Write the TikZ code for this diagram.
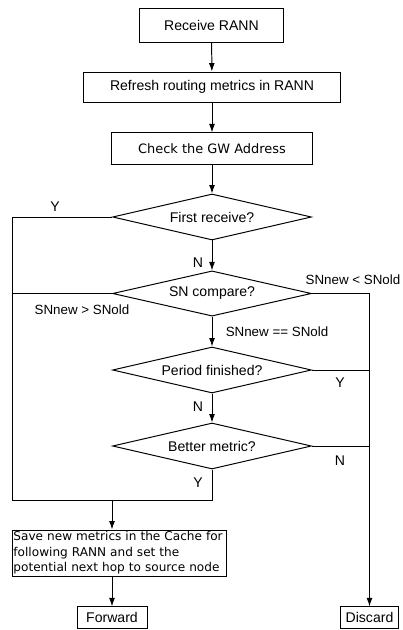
\documentclass[tikz,border=0pt]{standalone}
\usepackage{fontspec}
\setmainfont{Liberation Sans}
\newfontfamily\verd{DejaVu Sans}
\usetikzlibrary{shapes.geometric,arrows.meta,positioning}

\begin{document}
\begin{tikzpicture}[x=0.025cm,y=-0.025cm,
	every node/.style={font=\fontsize{10}{12}\selectfont},
	process/.style={draw,rectangle,line width=0.7pt,inner sep=1pt},
	decision/.style={draw,diamond,aspect=4.33,line width=0.7pt,inner sep=0pt,minimum width=4.97cm,minimum height=1.15cm},
	flow/.style={line width=0.7pt,-{Latex[length=6pt,width=4.2pt]}},
	link/.style={line width=0.7pt},
	lbl/.style={font=\fontsize{9.5}{11}\selectfont}]
			\useasboundingbox (0,0) rectangle (402,630);
			% main column
			\node[process,minimum width=3.58cm,minimum height=0.83cm] (recv) at (211.5,25.5) {Receive RANN};
			\node[process,minimum width=6.4cm,minimum height=0.75cm] (refresh) at (212,87) {Refresh routing metrics in RANN};
			\node[process,minimum width=5cm,minimum height=0.78cm,font=\verd\fontsize{9.2}{11}\selectfont] (check) at (212,148.5) {Check the GW Address};
			\node[decision] (first) at (212,217) {First receive?};
			\node[decision,minimum height=1.13cm] (sn) at (212,293.5) {SN compare?};
			\node[decision] (period) at (212,370) {Period finished?};
			\node[decision] (better) at (212,446) {Better metric?};
			\node[process,inner sep=0.5pt,minimum width=5.33cm,minimum height=1.15cm,text width=5.3cm,align=left,font=\verd\fontsize{8.6}{11}\selectfont] (save) at (119.5,553) {Save new metrics in the Cache for\\following RANN and set the\\potential next hop to source node};
			\node[process,minimum width=1.75cm,minimum height=0.53cm] (fwd) at (112,617.5) {Forward};
			\node[process,minimum width=1.43cm,minimum height=0.53cm] (disc) at (369.5,617.5) {Discard};
			\coordinate (lft) at (12,500);
			\coordinate (join) at (lft -| fwd.north);
			% arrows
			\draw[flow] (recv) -- (refresh);
			\draw[flow] (refresh) -- (check);
			\draw[flow] (check) -- (first);
			\draw[flow] (first) -- (sn);
			\draw[flow] (sn) -- (period);
			\draw[flow] (period) -- (better);
			\draw[link] (first.west) -| (lft) -- (better.south |- lft) -- (better.south);
			\draw[link] (sn.west) -- (sn.west -| lft);
			\draw[flow] (sn.east) -| (disc.north);
			\draw[link] (period.east) -- (period.east -| disc.north);
			\draw[link] (better.east) -- (better.east -| disc.north);
			\draw[flow] (join) -- (join |- save.north);
			\draw[flow] (save.south -| fwd.north) -- (fwd.north);
			% labels
			\node (yfirst) at (55,207) {Y};
			\node (nfirst) at (198,263) {N};
			\node[lbl] (snlt) at (353,280) {SNnew < SNold};
			\node[lbl] (sngt) at (82,310) {SNnew > SNold};
			\node[lbl] (sneq) at (277,332) {SNnew == SNold};
			\node (yperiod) at (340,383) {Y};
			\node (nperiod) at (198,407) {N};
			\node (nbetter) at (340,461) {N};
			\node (ybetter) at (198,483) {Y};
		\end{tikzpicture}
\end{document}
